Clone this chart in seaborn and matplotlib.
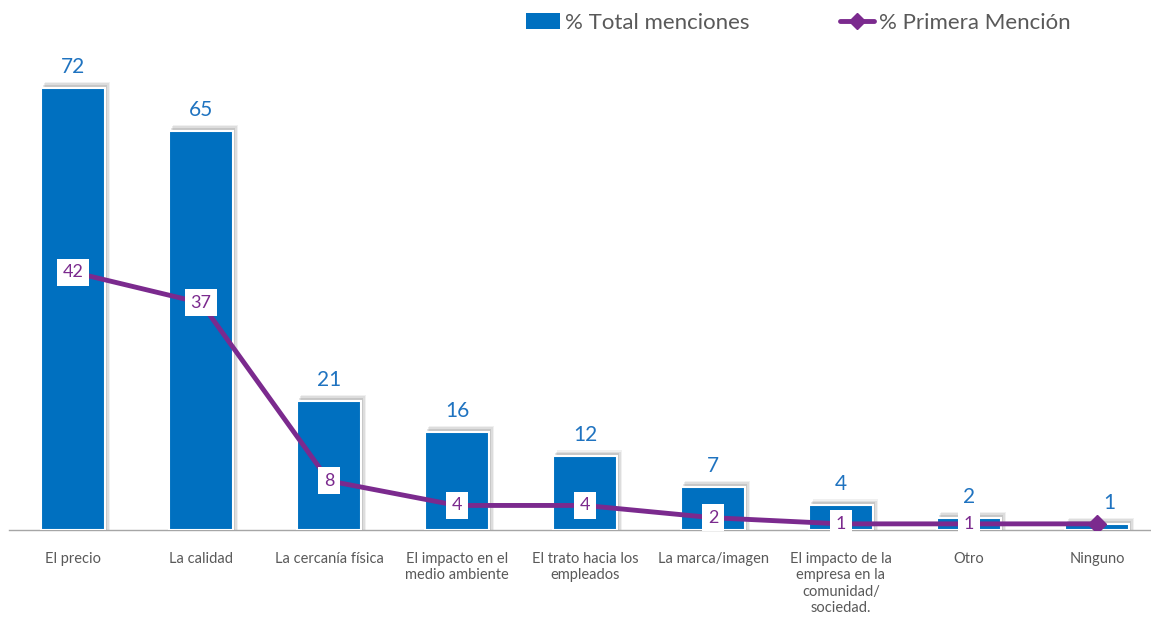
import matplotlib
matplotlib.use("Agg")
import matplotlib.pyplot as plt
import seaborn as sns
import pandas as pd
from matplotlib.patches import Rectangle
from matplotlib.lines import Line2D
from matplotlib.patches import Patch

# datos del grafico
categorias = ["El precio", "La calidad", "La cercanía física",
              "El impacto en el\nmedio ambiente", "El trato hacia los\nempleados",
              "La marca/imagen", "El impacto de la\nempresa en la\ncomunidad/\nsociedad.",
              "Otro", "Ninguno"]
total_menciones = [72, 65, 21, 16, 12, 7, 4, 2, 1]
primera_mencion = [42, 37, 8, 4, 4, 2, 1, 1, 1]

sns.set_style("white")
plt.rcParams['font.family'] = ['Lato', 'DejaVu Sans']

azul = "#0070C0"
morado = "#7B2A8E"
gris = "#595959"

df = pd.DataFrame({"cat": categorias, "total": total_menciones, "primera": primera_mencion})

fig = plt.figure(figsize=(11.51, 6.17), dpi=100)
# el eje se sale un poco por la derecha, como en el original
ax = fig.add_axes([9 / 1151, 0.141, 1152 / 1151, 0.796])

sns.barplot(data=df, x="cat", y="total", color=azul, width=0.5, saturation=1,
            edgecolor="white", linewidth=1.5, ax=ax, zorder=3)

# sombra de las barras
for p in ax.patches:
    x0, w, h = p.get_x(), p.get_width(), p.get_height()
    for k, a in enumerate([0.10, 0.08, 0.06]):
        d = 0.012 + k * 0.01
        ax.add_patch(Rectangle((x0 + d, 0), w + d * 0.3, h + 0.5 + k * 0.25,
                               facecolor="black", alpha=a, edgecolor="none", zorder=2))

# etiquetas de barras
for i, v in enumerate(total_menciones):
    dx = 0.1 if i == len(total_menciones) - 1 else 0
    ax.text(i + dx, v + 1.8, str(v), ha="center", va="bottom", color="#1F73C0",
            fontsize=15, zorder=6)

# linea primera mencion
sns.lineplot(x=list(range(len(primera_mencion))), y=primera_mencion, color=morado,
             linewidth=3.5, ax=ax, zorder=4)
ax.plot([len(primera_mencion) - 1], [primera_mencion[-1]], marker="D", color=morado,
        markersize=9, zorder=5)
for i, v in enumerate(primera_mencion[:-1]):
    ax.text(i, v, str(v), ha="center", va="center", color=morado, fontsize=13, zorder=6,
            bbox=dict(boxstyle="square,pad=0.3", facecolor="white", edgecolor="none"))

ax.set_ylim(0, 80)
ax.set_xlim(-0.5, len(categorias) - 0.5)
ax.set_yticks([])
ax.set_xlabel("")
ax.set_ylabel("")
for s in ["top", "left", "right"]:
    ax.spines[s].set_visible(False)
ax.spines["bottom"].set_color("#A6A6A6")
ax.spines["bottom"].set_linewidth(1)
ax.tick_params(axis="x", which="major", length=0, pad=16, labelsize=10.5, labelcolor=gris)
ax.set_xticks([i - 0.5 for i in range(len(categorias) + 1)], minor=True)
ax.tick_params(axis="x", which="minor", length=6, color="#A6A6A6", width=1)

handles = [Patch(facecolor=azul, edgecolor="none"),
           Line2D([0], [0], color=morado, linewidth=3.5, marker="D", markersize=8)]
fig.legend(handles, ["% Total menciones", "% Primera Mención"], loc="center",
           bbox_to_anchor=(0.6937, 0.963), ncol=2, frameon=False, fontsize=16,
           labelcolor=gris, handlelength=1.5, handletextpad=0.23, columnspacing=4.1)

fig.savefig("out.png", dpi=100)
